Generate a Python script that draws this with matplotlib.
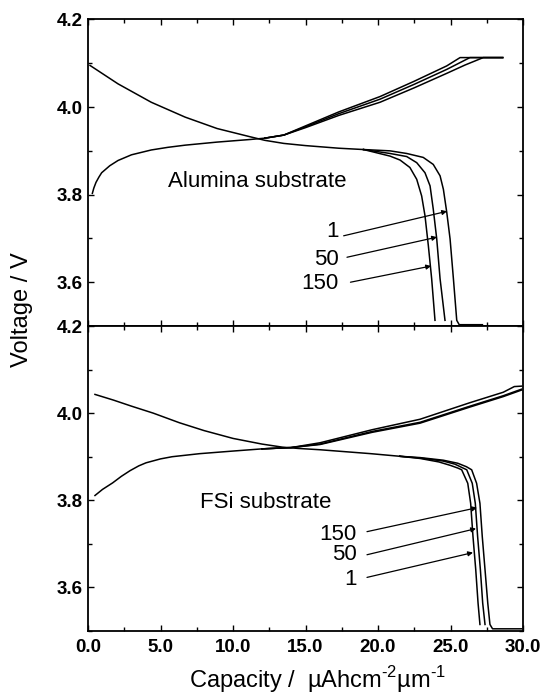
import matplotlib
matplotlib.use('Agg')
import matplotlib.pyplot as plt
from matplotlib.ticker import MultipleLocator, FormatStrFormatter

plt.rcParams['font.family'] = ['Liberation Sans', 'DejaVu Sans']
plt.rcParams['mathtext.fontset'] = 'custom'
plt.rcParams['mathtext.rm'] = 'Liberation Sans'

# Alumina substrate - charge curve (shared start, then cycles 1, 50, 150)
al_chg_x0 = [0.3, 0.4, 0.55, 0.75, 0.94, 1.5, 2.07, 3.0, 4.36, 5.5, 6.7, 8.9, 11.2, 12.2]
al_chg_v0 = [3.803, 3.815, 3.828, 3.840, 3.850, 3.866, 3.878, 3.891, 3.902, 3.908, 3.913, 3.920, 3.926, 3.929]
al_chg_x1 = [13.5, 15.0, 17.3, 20.14, 22.5, 24.74, 26.0, 27.26, 28.6]
al_chg_v1 = [3.936, 3.953, 3.981, 4.011, 4.044, 4.077, 4.096, 4.113, 4.113]
al_chg_x50 = [13.5, 15.0, 17.3, 20.14, 22.5, 24.74, 26.34, 28.6]
al_chg_v50 = [3.936, 3.955, 3.985, 4.018, 4.052, 4.086, 4.113, 4.113]
al_chg_x150 = [13.5, 15.0, 17.3, 20.14, 22.5, 24.74, 25.66, 28.6]
al_chg_v150 = [3.936, 3.957, 3.989, 4.024, 4.059, 4.094, 4.113, 4.113]

# Alumina substrate - discharge curve
al_dis_x0 = [0.14, 2.07, 4.36, 6.7, 8.9, 11.2, 12.2, 13.5, 15.0, 17.3, 19.0]
al_dis_v0 = [4.095, 4.053, 4.011, 3.977, 3.951, 3.932, 3.924, 3.917, 3.912, 3.906, 3.903]
al_dis_x1 = [20.83, 21.98, 23.12, 23.81, 24.28, 24.51, 24.74, 24.97, 25.2, 25.43, 25.6, 27.2]
al_dis_v1 = [3.900, 3.894, 3.885, 3.869, 3.843, 3.812, 3.760, 3.699, 3.608, 3.513, 3.503, 3.503]
al_dis_x50 = [20.83, 21.98, 22.67, 23.24, 23.59, 23.81, 24.05, 24.28, 24.62]
al_dis_v50 = [3.894, 3.887, 3.873, 3.850, 3.820, 3.767, 3.699, 3.608, 3.513]
al_dis_x150 = [20.83, 21.52, 22.2, 22.67, 23.01, 23.24, 23.47, 23.7, 23.93]
al_dis_v150 = [3.888, 3.879, 3.862, 3.835, 3.797, 3.752, 3.684, 3.608, 3.513]

# FSi substrate - charge curve
fs_chg_x0 = [0.48, 1.0, 1.7, 2.3, 2.9, 3.5, 4.0, 5.0, 5.8, 7.7, 10.0, 12.0]
fs_chg_v0 = [3.811, 3.825, 3.840, 3.855, 3.868, 3.879, 3.886, 3.895, 3.900, 3.907, 3.913, 3.918]
fs_chg_x1 = [14.0, 16.0, 19.6, 22.9, 26.34, 28.64, 29.9]
fs_chg_v1 = [3.921, 3.928, 3.956, 3.977, 4.014, 4.038, 4.053]
fs_chg_x50 = [14.0, 16.0, 19.6, 22.9, 26.34, 28.64, 29.9]
fs_chg_v50 = [3.921, 3.929, 3.958, 3.979, 4.016, 4.040, 4.055]
fs_chg_x150 = [14.0, 16.0, 19.6, 22.9, 26.34, 28.64, 29.4, 29.9]
fs_chg_v150 = [3.921, 3.932, 3.962, 3.986, 4.024, 4.048, 4.061, 4.062]

# FSi substrate - discharge curve
fs_dis_x0 = [0.48, 1.75, 3.0, 4.5, 6.3, 8.0, 10.0, 12.0, 13.4, 14.5, 16.0, 19.5, 21.5]
fs_dis_v0 = [4.043, 4.030, 4.016, 4.000, 3.978, 3.960, 3.942, 3.929, 3.922, 3.919, 3.916, 3.907, 3.901]
fs_dis_xa = [22.9, 24.5, 25.5, 26.1, 26.46, 26.8, 27.03, 27.19, 27.38, 27.57, 27.72, 27.9, 29.9]
fs_dis_va = [3.898, 3.892, 3.885, 3.877, 3.870, 3.839, 3.793, 3.717, 3.641, 3.564, 3.515, 3.505, 3.505]
fs_dis_xb = [22.9, 24.5, 25.3, 25.8, 26.12, 26.5, 26.71, 26.87, 27.06, 27.22, 27.38]
fs_dis_vb = [3.897, 3.890, 3.883, 3.875, 3.870, 3.839, 3.793, 3.717, 3.641, 3.564, 3.515]
fs_dis_xc = [22.9, 24.2, 25.0, 25.5, 25.77, 26.19, 26.39, 26.55, 26.74, 26.9, 27.03]
fs_dis_vc = [3.896, 3.888, 3.880, 3.874, 3.870, 3.839, 3.793, 3.717, 3.641, 3.564, 3.515]

# cycle labels, label y, arrow tails and tips
al_labels = ['1', '50', '150']
al_lab_y = [3.715, 3.653, 3.597]
al_tail = [(17.63, 3.706), (17.86, 3.657), (18.1, 3.600)]
al_tip = [(24.76, 3.762), (24.07, 3.703), (23.66, 3.637)]
fs_labels = ['150', '50', '1']
fs_lab_y = [3.721, 3.675, 3.618]
fs_tail = [(19.24, 3.728), (19.24, 3.675), (19.24, 3.623)]
fs_tip = [(26.83, 3.783), (26.76, 3.735), (26.55, 3.680)]

fig = plt.figure(figsize=(5.44, 6.96), dpi=100)
ax1 = fig.add_axes([0.1618, 0.5316, 0.7996, 0.4404])
ax2 = fig.add_axes([0.1618, 0.0934, 0.7996, 0.4382])

lw = 1.1
ax1.plot(al_chg_x0, al_chg_v0, color='black', lw=lw)
for xs, vs in [(al_chg_x1, al_chg_v1), (al_chg_x50, al_chg_v50), (al_chg_x150, al_chg_v150)]:
    ax1.plot([al_chg_x0[-1]] + xs, [al_chg_v0[-1]] + vs, color='black', lw=lw)
ax1.plot(al_dis_x0, al_dis_v0, color='black', lw=lw)
for xs, vs in [(al_dis_x1, al_dis_v1), (al_dis_x50, al_dis_v50), (al_dis_x150, al_dis_v150)]:
    ax1.plot([al_dis_x0[-1]] + xs, [al_dis_v0[-1]] + vs, color='black', lw=lw)

ax2.plot(fs_chg_x0, fs_chg_v0, color='black', lw=lw)
for xs, vs in [(fs_chg_x1, fs_chg_v1), (fs_chg_x50, fs_chg_v50), (fs_chg_x150, fs_chg_v150)]:
    ax2.plot([fs_chg_x0[-1]] + xs, [fs_chg_v0[-1]] + vs, color='black', lw=lw)
ax2.plot(fs_dis_x0, fs_dis_v0, color='black', lw=lw)
for xs, vs in [(fs_dis_xa, fs_dis_va), (fs_dis_xb, fs_dis_vb), (fs_dis_xc, fs_dis_vc)]:
    ax2.plot([fs_dis_x0[-1]] + xs, [fs_dis_v0[-1]] + vs, color='black', lw=lw)

ax1.text(5.52, 3.831, 'Alumina substrate', fontsize=16, ha='left', va='center')
ax2.text(7.72, 3.796, 'FSi substrate', fontsize=16, ha='left', va='center')

arrow = dict(arrowstyle='-|>', color='black', lw=0.9, mutation_scale=7, shrinkA=0, shrinkB=0)
for lab, ly, tail, tip in zip(al_labels, al_lab_y, al_tail, al_tip):
    ax1.text(17.3, ly, lab, fontsize=16, ha='right', va='center')
    ax1.annotate('', xy=tip, xytext=tail, arrowprops=arrow)
for lab, ly, tail, tip in zip(fs_labels, fs_lab_y, fs_tail, fs_tip):
    ax2.text(18.55, ly, lab, fontsize=16, ha='right', va='center')
    ax2.annotate('', xy=tip, xytext=tail, arrowprops=arrow)

for ax in (ax1, ax2):
    ax.set_xlim(0, 30)
    ax.set_ylim(3.5, 4.2)
    ax.set_yticks([3.6, 3.8, 4.0, 4.2])
    ax.yaxis.set_minor_locator(MultipleLocator(0.1))
    ax.xaxis.set_major_locator(MultipleLocator(5))
    ax.xaxis.set_minor_locator(MultipleLocator(2.5))
    ax.xaxis.set_major_formatter(FormatStrFormatter('%.1f'))
    ax.yaxis.set_major_formatter(FormatStrFormatter('%.1f'))
    ax.tick_params(which='both', direction='in', top=True, right=True, width=1.0)
    ax.tick_params(which='major', length=4)
    ax.tick_params(which='minor', length=3)
    ax.tick_params(axis='y', labelsize=13.5, pad=4)
    ax.tick_params(axis='x', labelsize=13.5, pad=6)
    for lbl in ax.get_xticklabels() + ax.get_yticklabels():
        lbl.set_fontweight('bold')
    for sp in ax.spines.values():
        sp.set_linewidth(1.3)

ax1.tick_params(axis='x', labelbottom=False)

fig.text(0.04, 0.555, 'Voltage / V', rotation=90, fontsize=17, ha='center', va='center')
fig.text(0.583, 0.023, 'Capacity /  µAhcm$^{\\mathregular{\u20102}}$µm$^{\\mathregular{\u20101}}$',
         fontsize=17, ha='center', va='center')

fig.savefig('out.png', dpi=100)
